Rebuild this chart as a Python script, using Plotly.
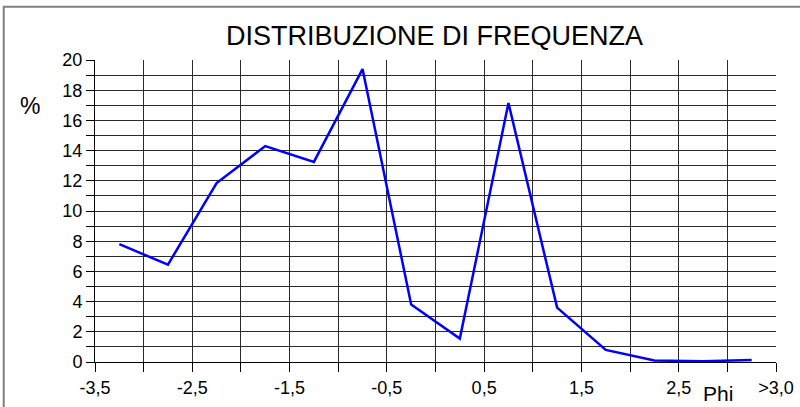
import plotly.graph_objects as go

# Data
phi_mid = [-3.25, -2.75, -2.25, -1.75, -1.25, -0.75, -0.25, 0.25, 0.75, 1.25, 1.75, 2.25, 2.75, 3.25]
percent = [7.8, 6.45, 11.85, 14.3, 13.25, 19.4, 3.8, 1.55, 17.15, 3.6, 0.8, 0.1, 0.05, 0.13]
x_tick_vals = [-3.5, -2.5, -1.5, -0.5, 0.5, 1.5, 2.5, 3.5]
x_tick_text = ["-3,5", "-2,5", "-1,5", "-0,5", "0,5", "1,5", "2,5", ">3,0"]
title_text = "DISTRIBUZIONE DI FREQUENZA"

FONT = "Liberation Sans, Arial, sans-serif"
GRID = "#2a2a2a"

fig = go.Figure()
fig.add_trace(go.Scatter(x=phi_mid, y=percent, mode="lines",
                         line=dict(color="#0000ff", width=2.5), showlegend=False,
                         hoverinfo="x+y"))

fig.update_layout(
    width=800, height=407, autosize=False,
    margin=dict(l=95, r=24, t=60, b=45),
    paper_bgcolor="white", plot_bgcolor="white",
    font=dict(family=FONT, color="black"),
    xaxis=dict(range=[-3.5, 3.5], tickmode="array", tickvals=x_tick_vals, ticktext=x_tick_text,
               showgrid=True, gridcolor=GRID, gridwidth=1,
               ticks="outside", ticklen=9, tickcolor="black", tickwidth=1,
               showline=True, linecolor="black", linewidth=1, mirror=False,
               tickfont=dict(size=18, family=FONT, color="black"),
               zeroline=False, fixedrange=True, automargin=False,
               minor=dict(tick0=-3.5, dtick=0.5, showgrid=True, gridcolor=GRID, gridwidth=1,
                          ticks="outside", ticklen=9, tickcolor="black")),
    yaxis=dict(range=[0, 20], tickmode="linear", tick0=0, dtick=2,
               showgrid=True, gridcolor=GRID, gridwidth=1,
               ticks="outside", ticklen=8, tickcolor="black", tickwidth=1,
               showline=True, linecolor="black", linewidth=1,
               tickfont=dict(size=18, family=FONT, color="black"),
               zeroline=False, fixedrange=True, automargin=False,
               minor=dict(tick0=0, dtick=1, showgrid=True, gridcolor=GRID, gridwidth=1,
                          ticks="outside", ticklen=8, tickcolor="black")),
    shapes=[dict(type="rect", xref="paper", yref="paper",
                 x0=-0.134, x1=1.2, y0=-0.3, y1=1.176,
                 line=dict(color="#7f7f7f", width=2), fillcolor="rgba(0,0,0,0)", layer="below")],
    annotations=[
        dict(text=title_text, xref="paper", yref="paper", x=0.499, y=1.081,
             xanchor="center", yanchor="middle", showarrow=False,
             font=dict(size=27, family=FONT, color="black")),
        dict(text="%", xref="paper", yref="paper", x=(31 - 95.5) / 680.5, y=(362.3 - 106) / 302.3,
             xanchor="center", yanchor="middle", showarrow=False,
             font=dict(size=23, family=FONT, color="black")),
        dict(text="Phi", xref="paper", yref="paper", x=(718 - 95.5) / 680.5, y=(362.3 - 407) / 302.3,
             xanchor="center", yanchor="bottom", showarrow=False,
             font=dict(size=21, family=FONT, color="black")),
    ],
)

fig.write_html("out.html", config={"displayModeBar": False},
               post_script="document.body.style.margin='0';document.body.style.overflow='hidden';")
